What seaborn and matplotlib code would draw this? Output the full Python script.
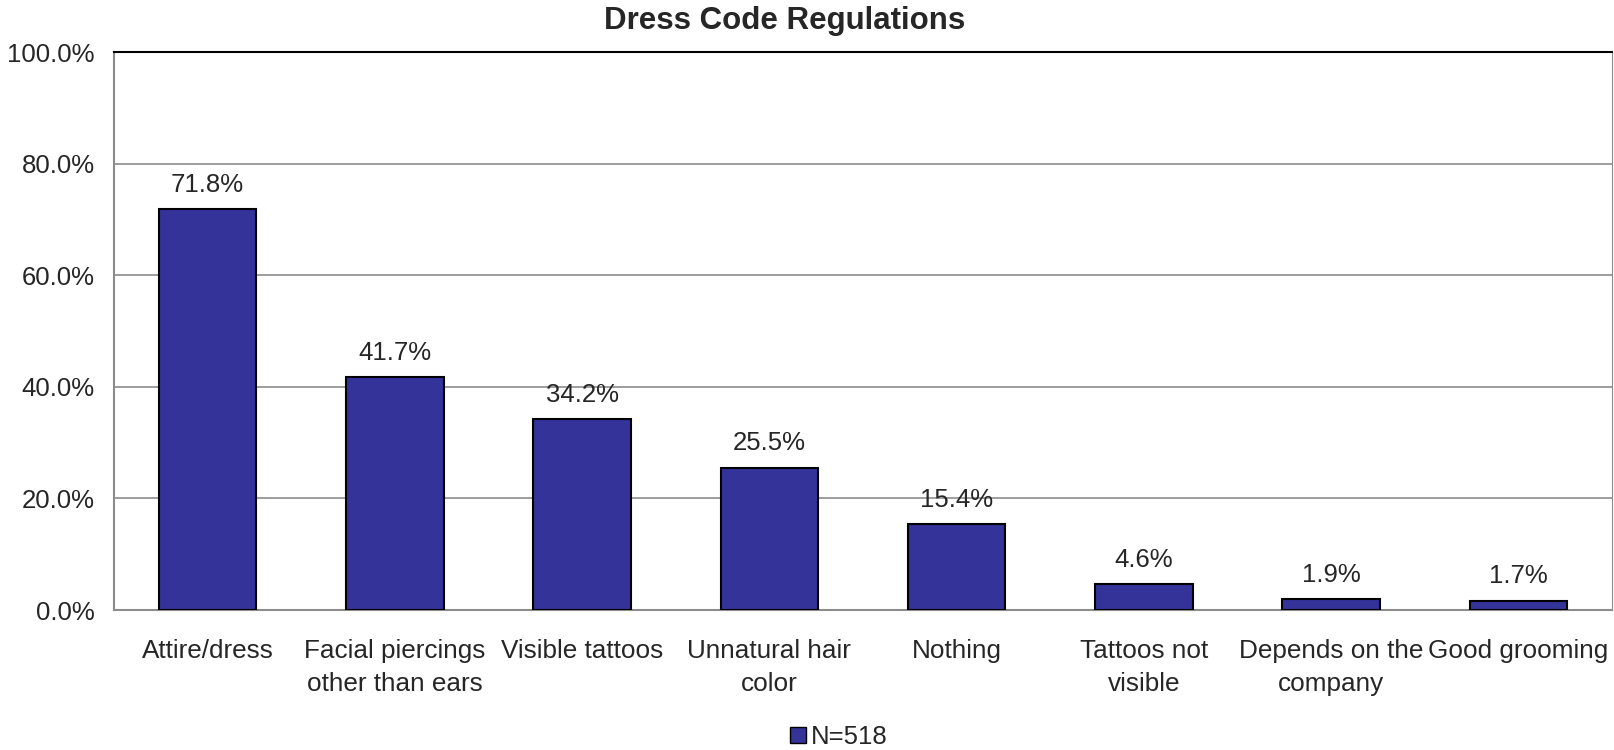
import pandas as pd
import matplotlib.pyplot as plt
import seaborn as sns
from matplotlib.patches import Patch

categories = ["Attire/dress", "Facial piercings\nother than ears", "Visible tattoos",
              "Unnatural hair\ncolor", "Nothing", "Tattoos not\nvisible",
              "Depends on the\ncompany", "Good grooming"]
values = [71.8, 41.7, 34.2, 25.5, 15.4, 4.6, 1.9, 1.7]
series_name = "N=518"
title = "Dress Code Regulations"

sns.set_style("white")
plt.rcParams['font.family'] = ['Liberation Sans', 'DejaVu Sans']

df = pd.DataFrame({'cat': categories, 'val': values})

fig = plt.figure(figsize=(16.14, 7.5), dpi=100)
ax = fig.add_axes([114 / 1614, 1 - 610 / 750, 1498 / 1614, 558 / 750])

sns.barplot(data=df, x='cat', y='val', color='#333399', saturation=1,
            width=0.52, edgecolor='black', linewidth=1.5, ax=ax, zorder=3)

for i, v in enumerate(values):
    ax.annotate(f"{v:.1f}%", (i, v), xytext=(0, 9), textcoords='offset points',
                ha='center', va='bottom', fontsize=18.5)

ax.set_xlim(-0.5, 7.5)
ax.set_ylim(0, 100)
ax.set_yticks(range(0, 101, 20))
ax.set_yticklabels([f"{t:.1f}%" for t in range(0, 101, 20)], fontsize=18.5)
ax.tick_params(axis='x', labelsize=18.8, length=0, pad=21)
ax.tick_params(axis='y', length=0, pad=14)
for lbl in ax.get_xticklabels():
    lbl.set_linespacing(1.45)
ax.set_xlabel('')
ax.set_ylabel('')
ax.yaxis.grid(True, color='#8c8c8c', linewidth=1.2, zorder=0)
ax.set_axisbelow(True)

for s in ['left', 'bottom']:
    ax.spines[s].set_color('#8c8c8c')
    ax.spines[s].set_linewidth(1.5)
ax.spines['top'].set_color('black')
ax.spines['top'].set_linewidth(1.5)
ax.spines['right'].set_color('#8c8c8c')

fig.text(785 / 1614, 1 - 21 / 750, title, ha='center', va='center',
         fontsize=22.5, fontweight='bold')

handle = Patch(facecolor='#333399', edgecolor='black', linewidth=1)
fig.legend([handle], [series_name], loc='center', bbox_to_anchor=(839 / 1614, 1 - 737 / 750),
           frameon=False, fontsize=18.5, handlelength=0.6, handleheight=0.6,
           handletextpad=0.2)

fig.savefig('out.png', dpi=100)
